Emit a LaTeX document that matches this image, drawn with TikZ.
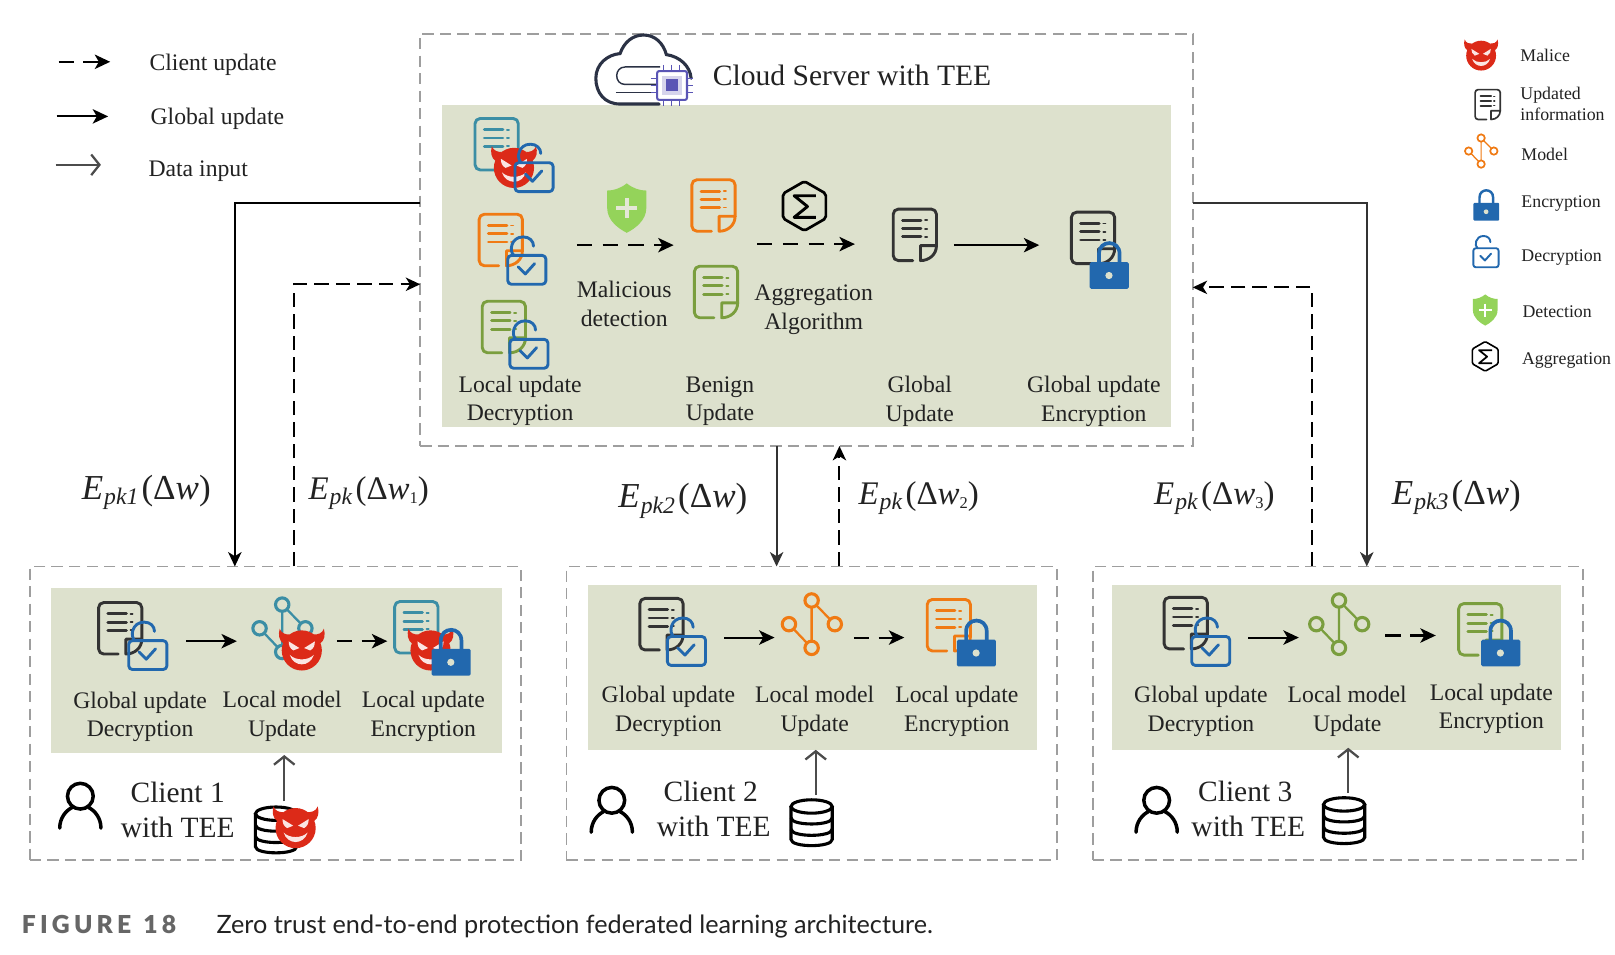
\documentclass[tikz,border=0pt]{standalone}
\usepackage{fontspec}
\setmainfont{Liberation Serif}
\newfontfamily\capfont{Lato}
\newfontfamily\capbold[LetterSpace=17]{Lato Black}
\usetikzlibrary{arrows.meta,shapes.geometric}
\definecolor{panelc}{HTML}{DDE1CD}
\definecolor{tealc}{HTML}{3B8EA5}
\definecolor{orangec}{HTML}{F07A13}
\definecolor{greenc}{HTML}{7A9E3E}
\definecolor{darkc}{HTML}{333333}
\definecolor{bluec}{HTML}{2268AE}
\definecolor{redc}{HTML}{DC2A18}
\definecolor{shieldc}{HTML}{94D35A}
\definecolor{txtc}{HTML}{222222}
\definecolor{chipc}{HTML}{5A55B5}
\definecolor{cloudc}{HTML}{2B3245}
\tikzset{
  dbox/.style={draw=black!38,line width=1.9pt,dash pattern=on 11pt off 6pt,fill=white,anchor=north west,inner sep=0pt,outer sep=0pt},
  panel/.style={fill=panelc,draw=none,anchor=north west,inner sep=0pt,outer sep=0pt},
  lbl/.style={align=center,text=txtc,font=\fontsize{23}{27.6}\selectfont,inner sep=0pt},
  clbl/.style={align=center,text=txtc,font=\fontsize{28.6}{34}\selectfont,inner sep=0pt},
  leg/.style={anchor=west,text=txtc,font=\fontsize{23}{28}\selectfont,inner sep=0pt},
  rleg/.style={anchor=west,align=left,text=txtc,font=\fontsize{17.3}{21}\selectfont,inner sep=0pt},
  eq/.style={text=txtc,font=\fontsize{34}{36}\selectfont,inner sep=0pt},
  eqs/.style={text=txtc,font=\fontsize{32}{36}\selectfont,inner sep=0pt},
  solidarr/.style={-{Stealth[length=15pt,width=14pt,inset=4pt]},line width=2pt,black},
  dasharr/.style={-{Stealth[length=15pt,width=14pt,inset=4pt]},line width=2pt,black,dash pattern=on 15pt off 10pt},
  linkarr/.style={-{Stealth[length=14pt,width=13pt,inset=4pt]},line width=2pt,black!80},
  linkdash/.style={-{Stealth[length=14pt,width=13pt,inset=4pt]},line width=1.9pt,black,dash pattern=on 14pt off 7pt},
  openarr/.style={-{Straight Barb[length=8pt,width=20pt]},line width=2.2pt,black!70},
}
\newcommand{\DocI}[3][1]{\begin{scope}[shift={(#2)},xshift=1.2pt,scale=#1,draw=#3,line cap=round,line join=round]
\draw[line width=#1*2.8pt,rounded corners=#1*5pt] (19,50) -- (0,50) -- (0,0) -- (42,0) -- (42,36);
\draw[line width=#1*2.8pt] (42,35.5) -- (26.5,35.5) -- (26.5,50) .. controls (35,50) and (42,44) .. (42,35.5);
\draw[line width=#1*2.8pt] (9,11) -- (27,11) (9,19) -- (27,19) (9,27) -- (27,27);
\draw[line width=#1*1.8pt] (31,11) -- (33,11) (31,19) -- (33,19) (31,27) -- (33,27);
\end{scope}}
\newcommand{\UnlockI}[2][1]{\begin{scope}[shift={(#2)},scale=#1,draw=bluec,line width=#1*2.8pt,line cap=round,line join=round]
\draw[rounded corners=#1*3.5pt] (0,0) rectangle (37,28);
\draw (6,0) .. controls (1,-4) and (3,-18) .. (15,-18) .. controls (21,-18) and (25,-14) .. (25,-9);
\draw (10,11) -- (17,18) -- (26,8);
\end{scope}}
\newcommand{\LockI}[2][1]{\begin{scope}[shift={(#2)},scale=#1]
\draw[bluec,line width=#1*3.6pt] (9,2) -- (9,-8) .. controls (9,-22) and (29,-22) .. (29,-8) -- (29,2);
\fill[bluec,rounded corners=#1*1.5pt] (0,0) rectangle (38,26);
\fill[panelc] (18.7,13) circle[radius=3.5];
\end{scope}}
\newcommand{\DevilI}[2][19.5]{\begin{scope}[shift={(#2)},scale=#1]
\fill[redc] (0,0) circle[radius=1];
\fill[redc] (-1.1,-1.08) .. controls (-1.02,-.85) and (-.8,-.78) .. (-.6,-.8) -- (-.92,-.35) .. controls (-1.14,-.5) and (-1.18,-.8) .. (-1.1,-1.08);
\fill[redc] (1.1,-1.08) .. controls (1.02,-.85) and (.8,-.78) .. (.6,-.8) -- (.92,-.35) .. controls (1.14,-.5) and (1.18,-.8) .. (1.1,-1.08);
\fill[white!88!redc] (-.65,-.45) -- (-.12,-.12) -- (-.42,0) .. controls (-.6,-.1) and (-.65,-.25) .. (-.65,-.45);
\fill[white!88!redc] (.65,-.45) -- (.12,-.12) -- (.42,0) .. controls (.6,-.1) and (.65,-.25) .. (.65,-.45);
\fill[white!88!redc] (-.6,.22) .. controls (-.4,.85) and (.4,.85) .. (.6,.22) .. controls (.3,.52) and (-.3,.52) .. (-.6,.22);
\end{scope}}
\newcommand{\ModelI}[4][1]{\begin{scope}[shift={(#2)},scale=#1]
\draw[#3,line width=#1*2.2pt] (0,0) -- (0,46) (0,0) -- (22.5,23) (-22,23) -- (0,46);
\foreach \mx/\my in {0/0,-22/23,22.5/23,0/46}{\draw[#3,fill=#4,line width=#1*3pt] (\mx,\my) circle[radius=6.5];}
\end{scope}}
\newcommand{\ShieldI}[3][1]{\begin{scope}[shift={(#2)},scale=#1]
\fill[shieldc] (0,-24) .. controls (-6,-19) and (-13,-17) .. (-19,-17) -- (-19,0) .. controls (-19,12) and (-8,20) .. (0,24) .. controls (8,20) and (19,12) .. (19,0) -- (19,-17) .. controls (13,-17) and (6,-19) .. (0,-24) -- cycle;
\draw[#3,line width=#1*3.5pt] (-10,0) -- (10,0) (0,-10) -- (0,10);
\end{scope}}
\newcommand{\SigmaI}[2][1]{\begin{scope}[shift={(#2)},scale=#1,line join=round]
\draw[black,line width=#1*2.6pt,rounded corners=#1*2pt] (0,-24) -- (20.8,-12) -- (20.8,12) -- (0,24) -- (-20.8,12) -- (-20.8,-12) -- cycle;
\draw[black,line width=#1*2.8pt] (11,-10) -- (-10,-10) -- (3,0.5) -- (-10,11) -- (11,11);
\end{scope}}
\newcommand{\PersonI}[1]{\begin{scope}[shift={(#1)},black,line width=3.4pt,line cap=round]
\draw (0,0) circle[radius=12.5];
\draw (-20,31) .. controls (-20,21) and (-14,14) .. (-8,11);
\draw (20,31) .. controls (20,21) and (14,14) .. (8,11);
\end{scope}}
\newcommand{\DbI}[1]{\begin{scope}[shift={(#1)},black,line width=3pt]
\draw (0,0) ellipse[x radius=20,y radius=6.5];
\draw (-20,0) -- (-20,32) .. controls (-20,40) and (20,40) .. (20,32) -- (20,0);
\draw (-20,11) .. controls (-20,19) and (20,19) .. (20,11);
\draw (-20,22) .. controls (-20,30) and (20,30) .. (20,22);
\end{scope}}
\newcommand{\EqI}[3]{\textit{E}\hspace{1pt}\raisebox{-.35ex}{\fontsize{23}{24}\selectfont\textit{#1}}\hspace{3pt}(Δ\textit{w}\raisebox{-.3ex}{\fontsize{16}{18}\selectfont #3})#2}
\begin{document}
\begin{tikzpicture}[x=1pt,y=-1pt]
\useasboundingbox (0,0) rectangle (1568,927);
\fill[white] (0,0) rectangle (1568,927);

% boxes
\node[dbox,minimum width=750pt,minimum height=400pt] (cloud) at (408,33) {};
\node[panel,minimum width=708pt,minimum height=313pt] (cloudp) at (429,102) {};
\node[dbox,minimum width=477pt,minimum height=285pt] (cl1) at (29,550) {};
\node[panel,minimum width=437pt,minimum height=160pt] (cl1p) at (50,571) {};
\node[dbox,minimum width=476pt,minimum height=285pt] (cl2) at (550,550) {};
\node[panel,minimum width=436pt,minimum height=160pt] (cl2p) at (571,568) {};
\node[dbox,minimum width=476pt,minimum height=285pt] (cl3) at (1061,550) {};
\node[panel,minimum width=436pt,minimum height=160pt] (cl3p) at (1080,568) {};

% legend top-left
\coordinate (la1) at (57,60); \coordinate (la2) at (107,60);
\coordinate (lb1) at (55,113); \coordinate (lb2) at (105,113);
\coordinate (lc1) at (54,160); \coordinate (lc2) at (98,160);
\draw[dasharr,dash pattern=on 15pt off 9pt] (la1) -- (la2);
\draw[solidarr] (lb1) -- (lb2);
\draw[openarr] (lc1) -- (lc2);
\node[leg] (t1) at (145,62.5) {Client update};
\node[leg] (t2) at (146,115.5) {Global update};
\node[leg] (t3) at (144,166.5) {Data input};

% cloud icon
\draw[cloudc,line width=3pt,line cap=round] (640,101) -- (602,101) .. controls (587,101) and (578.5,90) .. (578.5,76) .. controls (578.5,62) and (590,53) .. (602,52) .. controls (606,41) and (614,34) .. (625,34) .. controls (636,34) and (644,42) .. (647,53) .. controls (660,55) and (670,64) .. (671,76);
\draw[cloudc,line width=1.4pt] (641,65) -- (607,65) .. controls (596,65) and (596,82) .. (607,82) -- (640,82);
\draw[cloudc,line width=1.4pt] (598,90) -- (645,90);
\draw[chipc,line width=2pt,fill=white,rounded corners=2pt] (638,69) rectangle (667,97);
\fill[chipc!25] (643,74) rectangle (662,92);
\fill[chipc] (647,77) rectangle (658,88);
\foreach \p in {644,652,660}{\draw[chipc,line width=1.3pt] (\p,63) -- (\p,69) (\p,97) -- (\p,103);}
\foreach \p in {76,83,90}{\draw[chipc,line width=1.3pt] (632,\p) -- (638,\p) (667,\p) -- (673,\p);}
\node[anchor=west,text=txtc,font=\fontsize{28.7}{32}\selectfont,inner sep=0pt] (cloudt) at (692,73) {Cloud Server with TEE};

% server icons
\DocI{460,115}{tealc}
\DevilI{499,163}
\UnlockI{500,158}
\DocI{464,208}{orangec}
\UnlockI{493,248}
\DocI{467,292.5}{greenc}
\UnlockI{495,329.5}
\ShieldI{608.5,202}{panelc!80!white}
\DocI{670.5,174.5}{orangec}
\DocI{673,258.5}{greenc}
\SigmaI{781,200}
\DocI{866,203}{darkc}
\DocI{1039,206}{darkc}
\LockI{1058,254.5}

\coordinate (sa1) at (560,238); \coordinate (sa2) at (654,238);
\coordinate (sb1) at (735,237); \coordinate (sb2) at (830,237);
\coordinate (sc1) at (926,238); \coordinate (sc2) at (1009,238);
\draw[dasharr] (sa1) -- (sa2);
\draw[dasharr] (sb1) -- (sb2);
\draw[solidarr] (sc1) -- (sc2);

\node[lbl] (l1) at (505,389) {Local update\\Decryption};
\node[lbl] (l2) at (606,295) {Malicious\\detection};
\node[lbl] (l3) at (699,389.5) {Benign\\Update};
\node[lbl] (l4) at (790,300.5) {Aggregation\\Algorithm};
\node[lbl] (l5) at (893,389.5) {Global\\Update};
\node[lbl] (l6) at (1062,389.5) {Global update\\Encryption};

% right legend
\DevilI[14.5]{1438,54}
\node[rleg] (r1) at (1476,54) {Malice};
\DocI[0.58]{1431,87}{darkc}
\node[rleg] (r2) at (1476,101) {Updated\\information};
\ModelI[0.55]{1438,134}{orangec}{white}
\node[rleg] (r3) at (1477,150) {Model};
\LockI[0.66]{1430.5,197}
\node[rleg] (r4) at (1477,198) {Encryption};
\UnlockI[0.66]{1430.5,241}
\node[rleg] (r5) at (1477,250.5) {Decryption};
\ShieldI[0.63]{1442,301}{white}
\node[rleg] (r6) at (1478,303) {Detection};
\SigmaI[0.6]{1442,346}
\node[rleg] (r7) at (1477.5,350) {Aggregation};

% client 1
\DocI{94.5,585}{darkc}
\UnlockI{125,622}
\ModelI{274,587}{tealc}{panelc}
\DevilI{293,631.5}
\DocI{382,584}{tealc}
\DevilI{418,631.5}
\LockI{419,630}
\coordinate (c1a1) at (181,622.5); \coordinate (c1a2) at (230,622.5);
\coordinate (c1b1) at (327,622.5); \coordinate (c1b2) at (376,622.5);
\draw[solidarr] (c1a1) -- (c1a2);
\draw[dasharr,dash pattern=on 15pt off 9pt] (c1b1) -- (c1b2);
\node[lbl] (c1l1) at (136,696) {Global update\\Decryption};
\node[lbl] (c1l2) at (274,695.5) {Local model\\Update};
\node[lbl] (c1l3) at (411,695.5) {Local update\\Encryption};
\PersonI{78,773}
\node[clbl] (c1t) at (172.5,786.5) {Client 1\\with TEE};
\DbI{268,790}
\DevilI{287,804}
\coordinate (c1d1) at (276,778); \coordinate (c1d2) at (276,733);
\draw[openarr] (c1d1) -- (c1d2);

% client 2
\DocI{620,581}{darkc}
\UnlockI{648,618}
\ModelI{788,583}{orangec}{panelc}
\DocI{899,582}{orangec}
\LockI{929,621}
\coordinate (c2a1) at (703,619); \coordinate (c2a2) at (752,619);
\coordinate (c2b1) at (829,619); \coordinate (c2b2) at (878,619);
\draw[solidarr] (c2a1) -- (c2a2);
\draw[dasharr,dash pattern=on 15pt off 9pt] (c2b1) -- (c2b2);
\node[lbl] (c2l1) at (649,690.5) {Global update\\Decryption};
\node[lbl] (c2l2) at (791,690.5) {Local model\\Update};
\node[lbl] (c2l3) at (929,690.5) {Local update\\Encryption};
\PersonI{594,777}
\node[clbl] (c2t) at (693,785.5) {Client 2\hspace*{6pt}\\with TEE};
\DbI{788,783}
\coordinate (c2d1) at (792,772); \coordinate (c2d2) at (792,728);
\draw[openarr] (c2d1) -- (c2d2);

% client 3
\DocI{1129,580}{darkc}
\UnlockI{1157,618}
\ModelI{1300,583}{greenc}{panelc}
\DocI{1415,586}{greenc}
\LockI{1438,621}
\coordinate (c3a1) at (1212,619); \coordinate (c3a2) at (1261,619);
\coordinate (c3b1) at (1345,617); \coordinate (c3b2) at (1394,617);
\draw[solidarr] (c3a1) -- (c3a2);
\draw[dasharr,dash pattern=on 15pt off 9pt] (c3b1) -- (c3b2);
\node[lbl] (c3l1) at (1166,690.5) {Global update\\Decryption};
\node[lbl] (c3l2) at (1308,690.5) {Local model\\Update};
\node[lbl] (c3l3) at (1448,688) {Local update\\Encryption};
\PersonI{1123,777}
\node[clbl] (c3t) at (1212,785.5) {Client 3\hspace*{6pt}\\with TEE};
\DbI{1305,781}
\coordinate (c3d1) at (1309,770); \coordinate (c3d2) at (1309,726);
\draw[openarr] (c3d1) -- (c3d2);

% links
\coordinate (k1a) at (408,197); \coordinate (k1b) at (228,197); \coordinate (k1c) at (228,550);
\coordinate (k2a) at (285,550); \coordinate (k2b) at (285,276); \coordinate (k2c) at (408,276);
\coordinate (k3a) at (754,433); \coordinate (k3b) at (754,550);
\coordinate (k4a) at (815,550); \coordinate (k4b) at (815,433);
\coordinate (k5a) at (1158,197); \coordinate (k5b) at (1327,197); \coordinate (k5c) at (1327,550);
\coordinate (k6a) at (1274,550); \coordinate (k6b) at (1274,279); \coordinate (k6c) at (1158,279);
\draw[linkarr,black] (k1a) -- (k1b) -- (k1c);
\draw[linkdash] (k2a) -- (k2b) -- (k2c);
\draw[linkarr] (k3a) -- (k3b);
\draw[linkdash] (k4a) -- (k4b);
\draw[linkarr] (k5a) -- (k5b) -- (k5c);
\draw[linkdash] (k6a) -- (k6b) -- (k6c);

\node[eq] (e1) at (142,478) {\EqI{pk1}{}{}};
\node[eqs] (e2) at (358,478.5) {\EqI{pk}{}{1}};
\node[eq] (e3) at (663,486) {\EqI{pk2}{}{}};
\node[eqs] (e4) at (892,483.5) {\EqI{pk}{}{2}};
\node[eqs] (e5) at (1179,483.5) {\EqI{pk}{}{3}};
\node[eq] (e6) at (1414,483) {\EqI{pk3}{}{}};

% caption
\node[anchor=west,inner sep=0pt,text=black!60,font=\capbold\fontsize{24}{26}\selectfont] (capa) at (21,898) {FIGURE\hspace{2pt} 18};
\node[anchor=west,inner sep=0pt,text=txtc,font=\capfont\fontsize{24.5}{28}\selectfont] (capb) at (210,900) {Zero trust end-to-end protection federated learning architecture.};
\end{tikzpicture}
\end{document}
